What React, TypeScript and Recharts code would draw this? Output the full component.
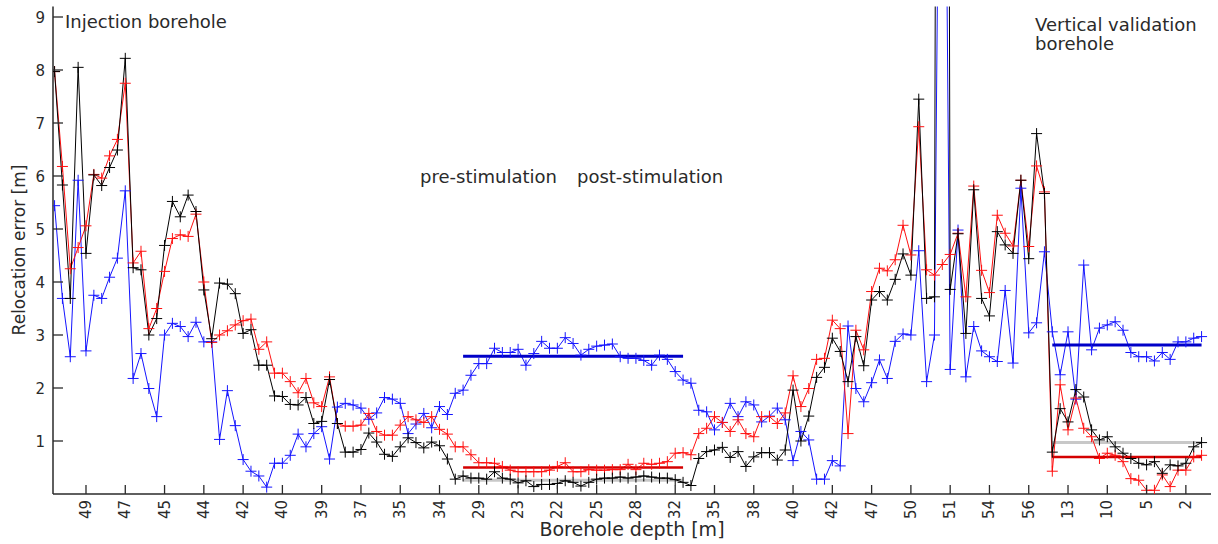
import React from 'react';
import { LineChart, Line, XAxis, YAxis, ReferenceLine } from 'recharts';

// depth labels under every 5th sample
const depthLabels = ['49', '47', '45', '44', '42', '40', '39', '37', '35', '34', '29', '23', '22', '25', '28', '32', '35', '38', '40', '42', '47', '50', '51', '54', '56', '13', '10', '5', '2'];
const depthTicks = depthLabels.map((_, k) => 4 + 5 * k);
const errTicks = [1, 2, 3, 4, 5, 6, 7, 8, 9];

const blueErr = [
  5.44, 3.69, 2.59, 5.92, 2.7, 3.75, 3.69, 4.09, 4.45, 5.72,
  2.18, 2.65, 1.99, 1.46, 3.0, 3.22, 3.16, 2.97, 3.24, 2.87,
  2.87, 1.03, 1.95, 1.29, 0.65, 0.43, 0.34, 0.13, 0.58, 0.58,
  0.73, 1.13, 0.89, 1.14, 1.27, 0.66, 1.64, 1.71, 1.68, 1.62,
  1.41, 1.53, 1.82, 1.79, 1.71, 1.14, 1.32, 1.52, 1.25, 1.65,
  1.5, 1.9, 1.96, 2.24, 2.46, 2.46, 2.75, 2.67, 2.67, 2.73,
  2.43, 2.65, 2.88, 2.75, 2.75, 2.95, 2.84, 2.62, 2.73, 2.79,
  2.81, 2.83, 2.59, 2.56, 2.56, 2.52, 2.43, 2.62, 2.54, 2.31,
  2.15, 2.09, 1.58, 1.55, 1.21, 1.35, 1.71, 1.46, 1.74, 1.68,
  1.36, 1.47, 1.62, 1.4, 0.63, 1.18, 1.02, 0.28, 0.28, 0.63,
  0.53, 3.17, 1.99, 1.74, 2.1, 2.53, 2.18, 2.88, 3.02, 3.0,
  4.59, 2.12, 3.0, 20, 2.35, 4.98, 2.21, 3.16, 2.7, 2.59,
  2.5, 3.84, 2.47, 5.77, 3.04, 3.23, 4.57, 3.06, 2.25, 3.06,
  1.79, 4.32, 2.72, 3.13, 3.19, 3.25, 3.09, 2.67, 2.59, 2.59,
  2.51, 2.67, 2.54, 2.87, 2.87, 2.94, 2.97,
];

const redErr = [
  7.97, 6.18, 4.25, 4.65, 5.06, 6.03, 5.96, 6.38, 6.69, 7.75,
  4.36, 4.58, 3.12, 3.5, 4.2, 4.82, 4.89, 4.86, 5.28, 4.0,
  2.86, 3.0, 3.08, 3.19, 3.27, 3.3, 2.73, 2.87, 2.28, 2.28,
  2.12, 1.91, 2.18, 1.72, 1.65, 2.21, 1.33, 1.28, 1.28, 1.3,
  1.52, 1.18, 1.11, 1.11, 1.3, 1.46, 1.4, 1.35, 1.46, 1.22,
  1.13, 0.89, 0.89, 0.74, 0.59, 0.59, 0.58, 0.52, 0.45, 0.42,
  0.42, 0.42, 0.42, 0.45, 0.52, 0.59, 0.42, 0.42, 0.46, 0.45,
  0.45, 0.46, 0.46, 0.56, 0.46, 0.58, 0.56, 0.58, 0.61, 0.77,
  0.78, 0.74, 1.14, 1.24, 1.46, 1.35, 1.18, 1.4, 1.14, 1.08,
  1.46, 1.46, 1.33, 1.53, 2.23, 1.65, 1.99, 2.54, 2.56, 3.28,
  3.12, 1.14, 3.09, 2.72, 3.82, 4.26, 4.21, 4.42, 5.07, 4.51,
  6.93, 4.23, 4.13, 4.33, 4.52, 4.92, 3.72, 5.81, 4.22, 3.8,
  5.26, 4.92, 4.68, 5.92, 4.67, 6.19, 5.7, 0.43, 2.06, 1.21,
  1.81, 1.24, 1.08, 0.67, 0.77, 0.73, 0.61, 0.29, 0.26, 0.07,
  0.07, 0.36, 0.14, 0.45, 0.45, 0.7, 0.73,
];

const blackErr = [
  7.97, 5.83, 3.69, 8.05, 4.54, 6.02, 5.82, 6.16, 6.49, 8.22,
  4.27, 4.23, 3.0, 3.31, 4.69, 5.52, 5.23, 5.64, 5.33, 3.85,
  2.93, 3.98, 3.96, 3.78, 3.03, 3.1, 2.43, 2.43, 1.85, 1.84,
  1.69, 1.68, 1.82, 1.33, 1.37, 2.16, 1.33, 0.79, 0.79, 0.84,
  1.15, 0.98, 0.75, 0.71, 0.89, 1.06, 0.97, 0.87, 0.98, 0.91,
  0.66, 0.28, 0.34, 0.3, 0.3, 0.28, 0.42, 0.3, 0.28, 0.21,
  0.25, 0.14, 0.18, 0.18, 0.2, 0.25, 0.22, 0.15, 0.22, 0.28,
  0.3, 0.3, 0.32, 0.3, 0.32, 0.34, 0.32, 0.3, 0.3, 0.27,
  0.22, 0.16, 0.67, 0.8, 0.83, 0.88, 0.69, 0.8, 0.52, 0.7,
  0.78, 0.78, 0.64, 0.83, 1.96, 1.0, 1.47, 2.2, 2.39, 2.94,
  2.69, 2.12, 2.97, 2.42, 3.66, 3.82, 3.66, 4.05, 4.53, 4.13,
  7.45, 3.69, 3.72, 60, 3.86, 4.91, 3.03, 5.74, 3.69, 3.36,
  4.95, 4.7, 4.54, 5.92, 4.44, 6.8, 5.67, 0.79, 1.61, 1.36,
  1.97, 1.83, 1.21, 1.02, 1.08, 0.89, 0.77, 0.67, 0.58, 0.55,
  0.61, 0.39, 0.55, 0.53, 0.58, 0.89, 0.97,
];

// mean lines: pre/post stimulation span and vertical borehole span
const meanFrom = [52, 127];
const meanTo = [80, 146];
const blueMean = [2.6, 2.81];
const redMean = [0.5, 0.7];
const grayMean = [0.26, 0.97];

const rows = blueErr.map((b, i) => ({ i, blue: b, red: redErr[i], black: blackErr[i] }));

const FONT = '"DejaVu Sans", Verdana, sans-serif';
const INK = '#2a2a2a';

const plusDot = (color: string) => (props: any) => {
  const { cx, cy, index } = props;
  if (cx == null || cy == null || isNaN(cy)) return <g key={`d-${index}`} />;
  return (
    <path
      key={`d-${index}`}
      d={`M${cx - 5.5},${cy}h11M${cx},${cy - 5.5}v11`}
      stroke={color}
      strokeWidth={1}
      fill="none"
    />
  );
};

const DepthTick = (props: any) => {
  const { x, y, payload } = props;
  const label = depthLabels[(payload.value - 4) / 5];
  return (
    <g>
      <line x1={x} y1={y} x2={x} y2={y - 9} stroke={INK} strokeWidth={1.3} />
      <text
        x={x + 5}
        y={y + 6}
        transform={`rotate(-90, ${x + 5}, ${y + 6})`}
        textAnchor="end"
        fontSize={15}
        fontFamily={FONT}
        fill={INK}
      >
        {label}
      </text>
    </g>
  );
};

const ErrTick = (props: any) => {
  const { x, y, payload } = props;
  return (
    <g>
      <line x1={x} y1={y} x2={x + 10} y2={y} stroke={INK} strokeWidth={1.3} />
      <text x={x - 8} y={y + 5.5} textAnchor="end" fontSize={15} fontFamily={FONT} fill={INK}>
        {payload.value}
      </text>
    </g>
  );
};

export default function App() {
  return (
    <div style={{ position: 'relative', width: 1218, height: 544, background: '#fff' }}>
      <style>{`body{margin:0}`}</style>
      <LineChart width={1218} height={544} data={rows} margin={{ top: 6.4, right: 7, bottom: 0, left: 0 }}>
        <XAxis
          type="number"
          dataKey="i"
          domain={[-0.2, 147.2]}
          ticks={depthTicks}
          allowDataOverflow
          height={50}
          tickSize={0}
          tickMargin={0}
          tickLine={false}
          axisLine={{ stroke: INK, strokeWidth: 1.5 }}
          tick={<DepthTick />}
          interval={0}
        />
        <YAxis
          type="number"
          domain={[0, 9.2]}
          ticks={errTicks}
          allowDataOverflow
          width={53}
          tickSize={0}
          tickMargin={0}
          tickLine={false}
          axisLine={{ stroke: INK, strokeWidth: 1.5 }}
          tick={<ErrTick />}
          interval={0}
        />
        {meanFrom.map((f, k) => (
          <ReferenceLine key={`g${k}`} segment={[{ x: f, y: grayMean[k] }, { x: meanTo[k], y: grayMean[k] }]} stroke="#c8c8c8" strokeWidth={3} />
        ))}
        <Line type="linear" dataKey="blue" stroke="#1515ff" strokeWidth={1} dot={plusDot('#1515ff')} activeDot={false} isAnimationActive={false} />
        <Line type="linear" dataKey="red" stroke="#ff1010" strokeWidth={1} dot={plusDot('#ff1010')} activeDot={false} isAnimationActive={false} />
        <Line type="linear" dataKey="black" stroke="#000" strokeWidth={1} dot={plusDot('#000')} activeDot={false} isAnimationActive={false} />
        {meanFrom.map((f, k) => (
          <ReferenceLine key={`b${k}`} segment={[{ x: f, y: blueMean[k] }, { x: meanTo[k], y: blueMean[k] }]} stroke="#0000c8" strokeWidth={3} />
        ))}
        {meanFrom.map((f, k) => (
          <ReferenceLine key={`r${k}`} segment={[{ x: f, y: redMean[k] }, { x: meanTo[k], y: redMean[k] }]} stroke="#d40000" strokeWidth={2.5} />
        ))}
      </LineChart>
      <svg width={1218} height={544} style={{ position: 'absolute', left: 0, top: 0, pointerEvents: 'none' }}>
        <g fontFamily={FONT} fill={INK}>
          <text x={65} y={28} fontSize={18}>Injection borehole</text>
          <text x={420} y={183} fontSize={18}>pre-stimulation</text>
          <text x={577} y={183} fontSize={18}>post-stimulation</text>
          <text x={1035} y={31} fontSize={18}>Vertical validation</text>
          <text x={1035} y={50} fontSize={18}>borehole</text>
          <text x={632} y={536} fontSize={19} textAnchor="middle">Borehole depth [m]</text>
          <text x={25} y={250} fontSize={17} textAnchor="middle" transform="rotate(-90, 25, 250)">Relocation error [m]</text>
        </g>
      </svg>
    </div>
  );
}
